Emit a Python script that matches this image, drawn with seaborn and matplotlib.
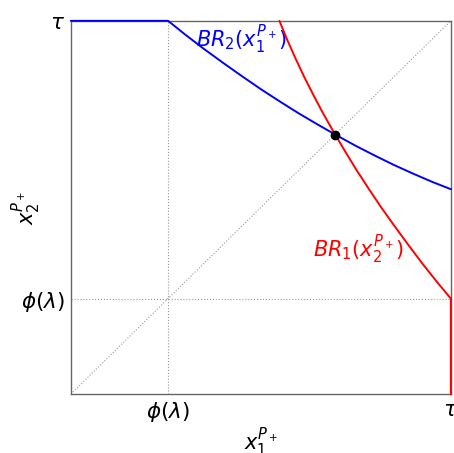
import numpy as np
import pandas as pd
import matplotlib
matplotlib.use("Agg")
import matplotlib.pyplot as plt
import seaborn as sns

# threshold values (axis units, tau = 1)
tau = 1.0
phi = 0.256

# BR_2 as a function of x1
br2_x1 = [0.0, 0.256, 0.30, 0.35, 0.40, 0.45, 0.50, 0.55, 0.60, 0.65,
          0.70, 0.75, 0.80, 0.85, 0.90, 0.95, 1.0]
br2_x2 = [1.0, 1.0, 0.964, 0.925, 0.888, 0.852, 0.817, 0.784, 0.752, 0.722,
          0.693, 0.665, 0.639, 0.614, 0.591, 0.569, 0.549]

# BR_1 as a function of x2 (mirror image across the diagonal)
br1_x2 = [0.0, 0.256, 0.30, 0.35, 0.40, 0.45, 0.50, 0.55, 0.60, 0.65,
          0.70, 0.75, 0.80, 0.85, 0.90, 0.95, 1.0]
br1_x1 = [1.0, 1.0, 0.964, 0.925, 0.888, 0.852, 0.817, 0.784, 0.752, 0.722,
          0.693, 0.665, 0.639, 0.614, 0.591, 0.569, 0.549]

eq_point = (0.695, 0.695)

sns.set_style("white")
plt.rcParams['font.family'] = ['DejaVu Sans']
plt.rcParams['text.color'] = 'black'
plt.rcParams['axes.labelcolor'] = 'black'
plt.rcParams['xtick.color'] = 'black'
plt.rcParams['ytick.color'] = 'black'

fig = plt.figure(figsize=(4.54, 4.53), dpi=100)
ax = fig.add_axes([0.156, 0.130, 0.837, 0.824])

# guide lines
ax.plot([0, tau], [0, tau], ls=':', color='0.6', lw=0.8)
ax.plot([phi, phi], [0, tau], ls=':', color='0.6', lw=0.8)
ax.plot([0, tau], [phi, phi], ls=':', color='0.6', lw=0.8)

df2 = pd.DataFrame({'x1': br2_x1, 'x2': br2_x2})
df1 = pd.DataFrame({'x1': br1_x1, 'x2': br1_x2})
sns.lineplot(data=df2, x='x1', y='x2', color='blue', lw=1.4, sort=False,
             estimator=None, ax=ax, clip_on=False, zorder=5)
sns.lineplot(data=df1, x='x1', y='x2', color='red', lw=1.4, sort=False,
             estimator=None, ax=ax, clip_on=False, zorder=5)
ax.plot([eq_point[0]], [eq_point[1]], 'o', color='black', ms=6, zorder=6)

ax.text(0.33, 0.95, r'$BR_2(x_1^{P_+})$', color='blue', fontsize=15, va='center')
ax.text(0.638, 0.388, r'$BR_1(x_2^{P_+})$', color='red', fontsize=15, va='center')

ax.set_xlim(0, tau)
ax.set_ylim(0, tau)
ax.set_xticks([phi, tau])
ax.set_xticklabels([r'$\phi(\lambda)$', r'$\tau$'], fontsize=15.5)
ax.set_yticks([phi, tau])
ax.set_yticklabels([r'$\phi(\lambda)$', r'$\tau$'], fontsize=15.5)
ax.tick_params(length=0, pad=4)
ax.set_xlabel(r'$x_1^{P_+}$', fontsize=15)
ax.set_ylabel(r'$x_2^{P_+}$', fontsize=15)
ax.xaxis.set_label_coords(0.5, -0.085)
ax.yaxis.set_label_coords(-0.074, 0.5)
for s in ax.spines.values():
    s.set_color('0.4')
    s.set_linewidth(1.0)

fig.savefig('out.png', dpi=100)
